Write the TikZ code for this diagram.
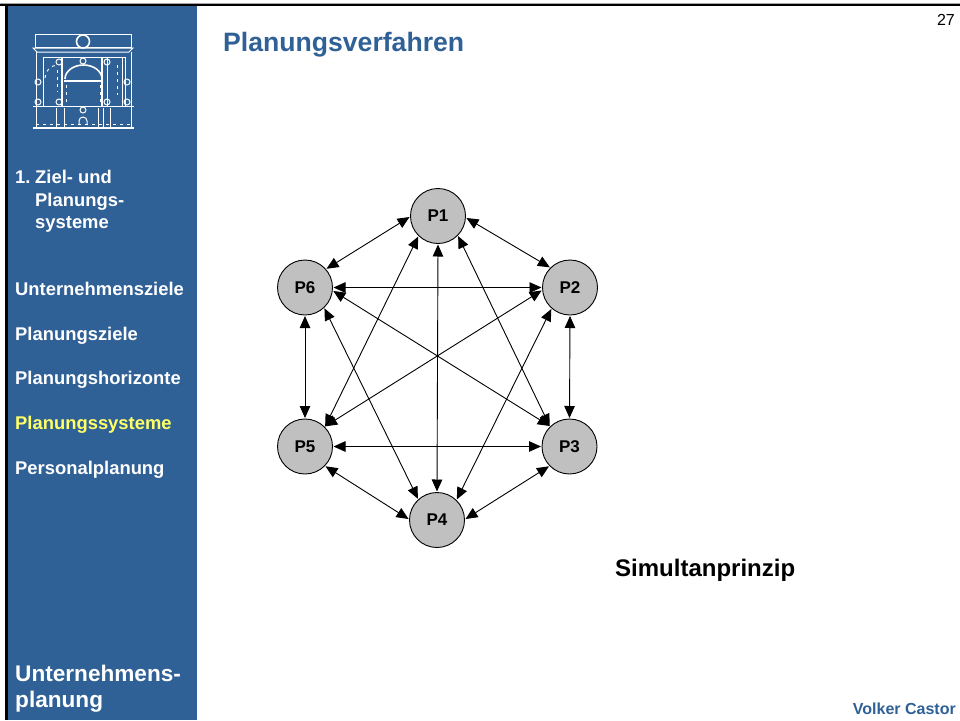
\documentclass[tikz,border=0pt]{standalone}
\usepackage{fontspec}
\setmainfont{Liberation Sans}
\usetikzlibrary{arrows.meta}
\definecolor{slideblue}{HTML}{2F6096}
\definecolor{titleblue}{HTML}{2F6096}
\definecolor{navyellow}{HTML}{FFFF66}
\definecolor{circfill}{HTML}{C0C0C0}
\tikzset{
  x=1pt,y=-1pt,
  pnode/.style={circle,draw=black,line width=0.9pt,fill=circfill,minimum size=55pt,inner sep=0pt,outer sep=1pt,font=\fontsize{17}{20}\selectfont\bfseries},
  link/.style={line width=0.9pt,{Triangle[length=12pt,width=10.5pt]}-{Triangle[length=12pt,width=10.5pt]}},
  nav/.style={anchor=base west,inner sep=0pt,text=white,font=\fontsize{18.4}{22}\selectfont\bfseries},
  navbig/.style={anchor=base west,inner sep=0pt,text=white,font=\fontsize{22.6}{26}\selectfont\bfseries},
  logo/.style={draw=white,line width=1pt},
  logob/.style={draw=white,line width=1.6pt},
  logod/.style={draw=white,line width=0.9pt,dash pattern=on 3pt off 4pt},
}
\begin{document}
\begin{tikzpicture}
\useasboundingbox (0,0) rectangle (960,720);
\fill[white] (0,0) rectangle (960,720);
\fill[slideblue] (7,5) rectangle (197,720);
\fill[black] (0,3.5) rectangle (960,5.5);
\fill[black] (5,3.5) rectangle (7.5,720);
\fill[black!35] (0,2.8) rectangle (960,3.6);
% logo
\draw[logo] (35.5,34) rectangle (131,47.5);
\draw[logob] (83,41.5) circle (6.5);
\draw[logod] (42,47) -- (125,47);
\draw[logo] (33,48) -- (133,48) -- (129,52) -- (37,52) -- cycle;
\draw[logo] (36,52) -- (36,106) (131,52) -- (131,106);
\draw[logo] (43,57) -- (125,57) (43,57) -- (43,106) (125,57) -- (125,106) (122,57) -- (122,106);
\draw[logob] (62,58) -- (62,106) (102,58) -- (102,106);
\draw[logo] (107,58) -- (107,106);
\foreach \p in {(59,62),(107,62),(38,82),(127,82),(38,102),(59,102),(107,102),(127,102),(83,61)}
  \draw[logo] \p circle (3);
\draw[logob] (65,79) arc[start angle=180,end angle=360,x radius=18.5,y radius=14];
\draw[logob] (64,81) -- (103,81);
\draw[logod] (66,85) -- (66,104) (100,85) -- (100,104);
\draw[logod] (45,78) arc[start angle=180,end angle=270,radius=13];
\draw[logod] (57,70) -- (57,92);
\draw[logod] (117,65) -- (117,95);
\draw[logob] (33,106.5) -- (134,106.5);
\draw[logo] (36,107) -- (36,128) (131,107) -- (131,128);
\draw[logo] (56,108) -- (56,127) (64,108) -- (64,127) (98,108) -- (98,127) (103,108) -- (103,127) (110,108) -- (110,127);
\draw[logo] (83,110) circle (3);
\draw[logo] (79,125) -- (79,121) arc[start angle=180,end angle=360,radius=4] -- (87,125);
\draw[logod] (36,124.5) -- (131,124.5);
\draw[logob] (33,128) -- (134,128);
% side text
\node[nav] at (15,183) {1.};
\node[nav] at (35,183) {Ziel- und};
\node[nav] at (35,206) {Planungs-};
\node[nav] at (35,228) {systeme};
\node[nav] at (15,295) {Unternehmensziele};
\node[nav] at (15,340) {Planungsziele};
\node[nav] at (15,384) {Planungshorizonte};
\node[nav,text=navyellow] at (15,429) {Planungssysteme};
\node[nav] at (15,474) {Personalplanung};
\node[navbig] at (15,681) {Unternehmens-};
\node[navbig] at (15,707) {planung};
% heading
\node[anchor=base west,inner sep=0pt,text=titleblue,font=\fontsize{26.6}{30}\selectfont\bfseries] at (223,51) {Planungsverfahren};
\node[anchor=base east,inner sep=0pt,font=\fontsize{16}{19}\selectfont] at (955,25) {27};
\node[anchor=base east,inner sep=0pt,text=titleblue,font=\fontsize{16}{19}\selectfont\bfseries] at (956,714) {Volker Castor};
\node[anchor=base west,inner sep=0pt,font=\fontsize{24}{28}\selectfont\bfseries] at (615,576) {Simultanprinzip};
% graph
\node[pnode] (P1) at (438,216) {P1};
\node[pnode] (P2) at (570,287.5) {P2};
\node[pnode] (P3) at (569.5,446.5) {P3};
\node[pnode] (P4) at (437,520) {P4};
\node[pnode] (P5) at (305,446.5) {P5};
\node[pnode] (P6) at (305,287.5) {P6};
\foreach \a/\b in {P1.356/P2.135,P2.270/P3.90,P3.224/P4.2,P4.178/P5.316,P5.90/P6.270,P6.41/P1.182,
  P1.315/P3.134,P1.270/P4.90,P1.226/P5.45,P2.229/P4.46,P2.186/P5.45,P2.180/P6.0,P3.180/P5.0,P3.134/P6.353,P4.132/P6.313}
  \draw[link] (\a) -- (\b);
\end{tikzpicture}
\end{document}
